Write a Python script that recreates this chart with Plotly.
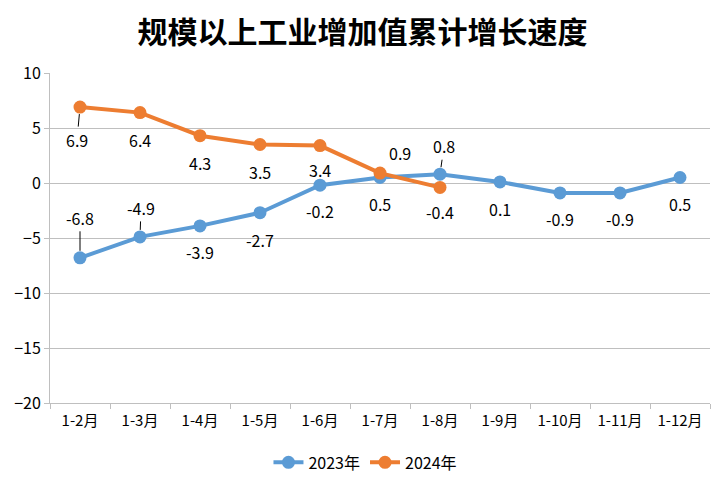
import plotly.graph_objects as go

categories = ["1-2月", "1-3月", "1-4月", "1-5月", "1-6月", "1-7月", "1-8月", "1-9月", "1-10月", "1-11月", "1-12月"]
values_2023 = [-6.8, -4.9, -3.9, -2.7, -0.2, 0.5, 0.8, 0.1, -0.9, -0.9, 0.5]
values_2024 = [6.9, 6.4, 4.3, 3.5, 3.4, 0.9, -0.4]
series_names = ["2023年", "2024年"]
title_text = "规模以上工业增加值累计增长速度"

BLUE = "#5B9BD5"
ORANGE = "#ED7D31"
FONT = "Noto Sans CJK SC"

# label placement (pixel offsets: dx, dy where dy positive = downward, leader line flag)
offsets_2023 = [(0, -40, True), (1, -29, True), (0, 26, False), (0, 27, False), (0, 26, False),
                (0, 26, False), (4, -28, True), (0, 27, False), (0, 26, False), (0, 26, False), (0, 26, False)]
offsets_2024 = [(-3, 33, True), (0, 27, False), (0, 27, False), (0, 27, False), (0, 24, False),
                (20, -20, False), (0, 25, False)]

fig = go.Figure()
fig.add_trace(go.Scatter(x=categories, y=values_2023, mode="lines+markers", name=series_names[0],
                         line=dict(color=BLUE, width=4), marker=dict(color=BLUE, size=13)))
fig.add_trace(go.Scatter(x=categories[:len(values_2024)], y=values_2024, mode="lines+markers", name=series_names[1],
                         line=dict(color=ORANGE, width=4), marker=dict(color=ORANGE, size=13)))

annotations = []
for cats, vals, offs in [(categories, values_2023, offsets_2023), (categories, values_2024, offsets_2024)]:
    for c, v, (dx, dy, lead) in zip(cats, vals, offs):
        txt = f"{v:.1f}"
        if lead:
            annotations.append(dict(x=c, y=v, xref="x", yref="y", text=txt, showarrow=True,
                                    arrowhead=0, arrowwidth=1, arrowcolor="#000000", standoff=7,
                                    ax=dx, ay=dy, font=dict(size=16, color="#000000", family=FONT)))
        else:
            annotations.append(dict(x=c, y=v, xref="x", yref="y", text=txt, showarrow=False,
                                    xshift=dx, yshift=-dy, font=dict(size=16, color="#000000", family=FONT)))

fig.update_layout(
    width=725, height=491,
    margin=dict(l=50, r=15, t=73, b=88),
    paper_bgcolor="white", plot_bgcolor="white",
    font=dict(family=FONT, size=15, color="#000000"),
    title=dict(text=f"<b>{title_text}</b>", x=0.5, xanchor="center", y=1 - 32 / 491, yanchor="middle",
               font=dict(size=30, family=FONT, color="#000000")),
    showlegend=True,
    legend=dict(orientation="h", x=0.478, xanchor="center", y=-0.18, yanchor="middle",
                font=dict(size=16, family=FONT), itemwidth=30, tracegroupgap=0),
    annotations=annotations,
)
fig.update_xaxes(type="category", range=[-0.5, 10.5], showline=True, linecolor="#BFBFBF", linewidth=1,
                 ticks="outside", tickson="boundaries", ticklen=5, tickcolor="#BFBFBF", automargin=False,
                 showgrid=False, ticklabelstandoff=4, tickfont=dict(size=15, family=FONT))
fig.update_yaxes(range=[-20, 10], dtick=5, showline=True, linecolor="#BFBFBF", linewidth=1,
                 ticks="outside", ticklen=5, tickcolor="#BFBFBF", gridcolor="#BFBFBF", gridwidth=1,
                 automargin=False, zeroline=False, tickfont=dict(size=16, family=FONT))

fig.write_html("out.html", config={"displayModeBar": False},
               post_script="document.body.style.margin='0';")
